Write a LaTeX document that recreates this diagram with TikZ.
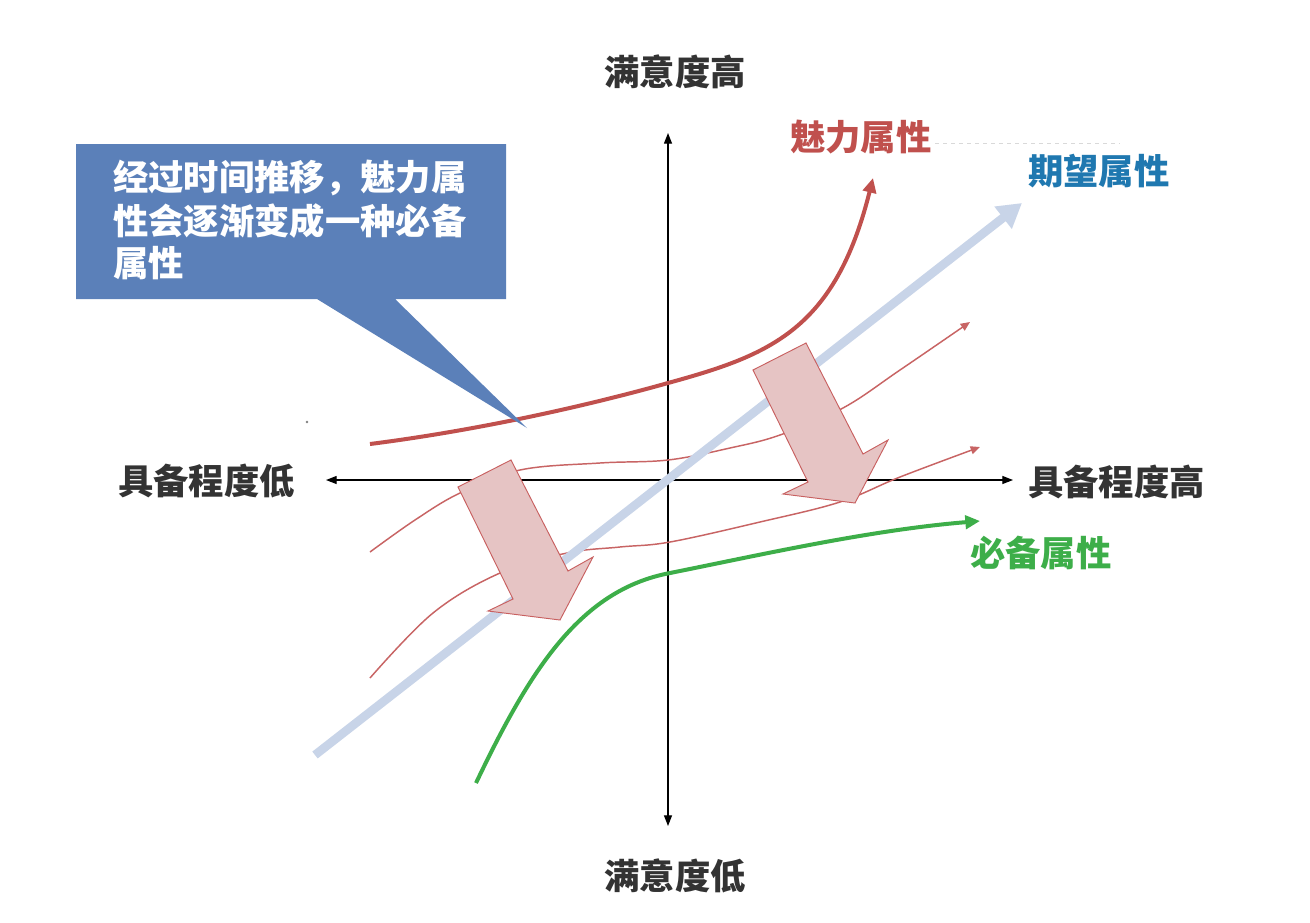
\documentclass[tikz,border=0pt]{standalone}
\usepackage{fontspec}
\setmainfont{Noto Sans CJK SC}
\usetikzlibrary{arrows.meta}
\definecolor{axisgray}{HTML}{333333}
\definecolor{attrred}{HTML}{C0504D}
\definecolor{thinred}{HTML}{C86464}
\definecolor{expblue}{HTML}{1F78B0}
\definecolor{lineblue}{HTML}{C8D4E8}
\definecolor{mustgreen}{HTML}{3DAE49}
\definecolor{pinkfill}{HTML}{E6C4C4}
\definecolor{pinkedge}{HTML}{C86060}
\definecolor{calloutblue}{HTML}{5B80B9}
\tikzset{
  lbl/.style={inner sep=0pt, font=\fontsize{26.5pt}{30pt}\selectfont\bfseries},
  axislbl/.style={lbl, text=axisgray},
  axisline/.style={line width=0.9pt, black, -{Triangle[length=8pt,width=6pt]}},
  thincurve/.style={thinred, line width=1.1pt, -{Triangle[length=7pt,width=6pt]}},
  pinkarrow/.style={fill=pinkfill, draw=pinkedge, line width=0.7pt, line join=miter},
  blockarrow/.pic={\draw[pinkarrow] (0,0) -- (53,-27) -- (110,84) -- (135,70) -- (102,133) -- (30,124) -- (55,112) -- cycle;}
}
\begin{document}
\begin{tikzpicture}[x=0.75pt,y=-0.75pt]
\useasboundingbox[fill=white] (0,0) rectangle (1310,922);
% axes
\coordinate (O) at (668,480);
\coordinate (ytop) at (668,133);
\coordinate (ybot) at (668,826);
\coordinate (xleft) at (326,480);
\coordinate (xright) at (1013,480);
\draw[axisline] (O) -- (ytop);
\draw[axisline] (O) -- (ybot);
\draw[axisline] (O) -- (xleft);
\draw[axisline] (O) -- (xright);
% thin red curves
\draw[thincurve] plot[smooth, tension=0.6] coordinates {(370,552) (415,520) (460,493) (520,470) (600,463) (668,460) (730,448) (780,435) (843,408) (900,370) (970,322)};
\draw[thincurve] plot[smooth, tension=0.6] coordinates {(370,678) (433,613) (500,573) (567,553) (620,547) (670,542) (760,522) (840,502) (900,477) (980,447)};
% expected attribute line
\coordinate (bstart) at (315,755);
\coordinate (bend) at (1022,203);
\draw[lineblue, line width=6.5pt, -{Triangle[length=18pt,width=20pt]}] (bstart) -- (bend);
% block arrows
\pic at (458,487) {blockarrow};
\pic at (753,370) {blockarrow};
% attractive curve
\draw[attrred, line width=3pt, -{Triangle[length=11pt,width=10pt]}] (370,444) .. controls (480,430) and (590,405) .. (668,383) .. controls (770,355) and (835,330) .. (873,178);
% must-be curve
\draw[mustgreen, line width=3pt, -{Triangle[length=11pt,width=10pt]}] (476,783) .. controls (530,670) and (580,590) .. (670,573) .. controls (760,555) and (870,530) .. (980,521);
% faint dashed line
\draw[black!15, line width=0.6pt, dashed] (935,143) -- (1120,143);
% stray dot
\fill[gray] (307,422) circle (1.3);
% callout
\fill[calloutblue] (76,144) -- (506,144) -- (506,299) -- (395,299) -- (527,428) -- (317,299) -- (76,299) -- cycle;
\node[lbl, text=white, anchor=base west] (c1) at (113,190) {经过时间推移，魅力属};
\node[lbl, text=white, anchor=base west] (c2) at (113,234) {性会逐渐变成一种必备};
\node[lbl, text=white, anchor=base west] (c3) at (113,276) {属性};
% axis labels
\node[axislbl, anchor=base] (sathigh) at (675,85) {满意度高};
\node[axislbl, anchor=base] (satlow) at (675,889) {满意度低};
\node[axislbl, anchor=base west] (fulllow) at (118,494) {具备程度低};
\node[axislbl, anchor=base west] (fullhigh) at (1028,495) {具备程度高};
% attribute labels
\node[lbl, text=attrred, anchor=base west] (attr) at (790,150) {魅力属性};
\node[lbl, text=expblue, anchor=base west] (expect) at (1028,184) {期望属性};
\node[lbl, text=mustgreen, anchor=base west] (must) at (970,566) {必备属性};
\end{tikzpicture}
\end{document}
